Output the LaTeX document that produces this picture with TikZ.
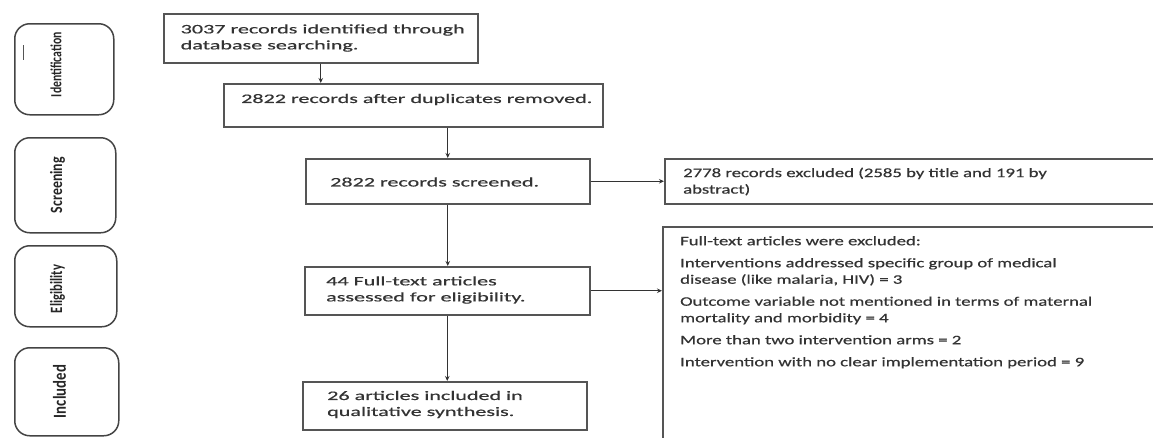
\documentclass[tikz,border=0pt]{standalone}
\usepackage{fontspec}
\setmainfont{Carlito}
\newfontfamily\mainfnt{Carlito}[FakeStretch=1.7,FakeBold=0.5]
\newfontfamily\smallfnt{Carlito}[FakeStretch=1.44,FakeBold=0.5]
\newfontfamily\sidefnt{Carlito}
\usetikzlibrary{arrows.meta,calc}
\definecolor{ink}{HTML}{333333}
\definecolor{edge}{HTML}{555555}
\begin{document}
\begin{tikzpicture}[x=1pt,y=-1pt,
  box/.style={draw=edge, line width=1.5pt, inner sep=0pt, anchor=north west},
  side/.style={draw=edge!80!black, line width=1.5pt, rounded corners=15pt, inner sep=0pt, anchor=north west},
  maintxt/.style={font=\mainfnt\fontsize{13pt}{16pt}\selectfont, text=ink, align=left, inner sep=0pt, anchor=west},
  smalltxt/.style={font=\smallfnt\fontsize{13pt}{16.5pt}\selectfont, text=ink, align=left, inner sep=0pt},
  sidetxt/.style={font=\sidefnt\bfseries, text=black!85, inner sep=0pt},
  arr/.style={draw=ink, line width=1.3pt, -{Stealth[length=5pt,width=4.5pt]}}]
\clip (0,0) rectangle (1153,437);
\fill[white] (0,0) rectangle (1153,437);

% stage boxes
\node[side, minimum width=99pt, minimum height=91pt] (s1) at (14,23) {};
\node[side, minimum width=101pt, minimum height=95pt] (s2) at (14,137) {};
\node[side, minimum width=102pt, minimum height=81pt] (s3) at (14,245) {};
\node[side, minimum width=104pt, minimum height=88pt] (s4) at (14,347) {};
\node[sidetxt] (l1) at (56,64.5) {\resizebox*{11pt}{65pt}{\rotatebox{90}{Identification}}};
\node[sidetxt] (l2) at (57.5,185) {\resizebox*{15pt}{56pt}{\rotatebox{90}{Screening}}};
\node[sidetxt] (l3) at (57.5,289) {\resizebox*{15pt}{48pt}{\rotatebox{90}{Eligibility}}};
\node[sidetxt] (l4) at (59.5,391.5) {\resizebox*{13pt}{53pt}{\rotatebox{90}{Included}}};
\draw[edge, line width=1pt] (23,45) -- (23,60);

% flow boxes
\node[box, minimum width=314pt, minimum height=49pt] (b1) at (163,13) {};
\node[box, minimum width=379pt, minimum height=43pt] (b2) at (223,83) {};
\node[box, minimum width=284pt, minimum height=45pt] (b3) at (305,158) {};
\node[box, minimum width=520pt, minimum height=45pt] (b4) at (664,158) {};
\node[box, minimum width=285pt, minimum height=48pt] (b5) at (304,266) {};
\node[box, minimum width=520pt, minimum height=250pt] (b6) at (662,226) {};
\node[box, minimum width=284pt, minimum height=48pt] (b7) at (302,381) {};

% texts
\node[maintxt] (t1) at (180.5,38) {3037 records identified through\\database searching.};
\node[maintxt] (t2) at (241,99.5) {2822 records after duplicates removed.};
\node[maintxt] (t3) at (330,182) {2822 records screened.};
\node[smalltxt, anchor=west] (t4) at (683,181.5) {2778 records excluded (2585 by title and 191 by\\abstract)};
\node[maintxt] (t5) at (326,290) {44 Full-text articles\\assessed for eligibility.};
\node[smalltxt, anchor=north west] (t6) at (680,236) {Full-text articles were excluded:\\[5.5pt]
Interventions addressed specific group of medical\\disease (like malaria, HIV) = 3\\[5.5pt]
Outcome variable not mentioned in terms of maternal\\mortality and morbidity = 4\\[5.5pt]
More than two intervention arms = 2\\[5.5pt]
Intervention with no clear implementation period = 9};
\node[maintxt] (t7) at (327,404.5) {26 articles included in\\qualitative synthesis.};

% connectors
\draw[arr] (b1.south) -- (b1.south |- b2.north);
\draw[arr] (b3.north |- b2.south) -- (b3.north);
\draw[arr] (b3.south) -- (b3.south |- b5.north);
\draw[arr] (b5.south) -- (b5.south |- b7.north);
\draw[arr] (b3.east) -- (b3.east -| b4.west);
\draw[arr] (b5.east) -- (b5.east -| b6.west);
\end{tikzpicture}
\end{document}
